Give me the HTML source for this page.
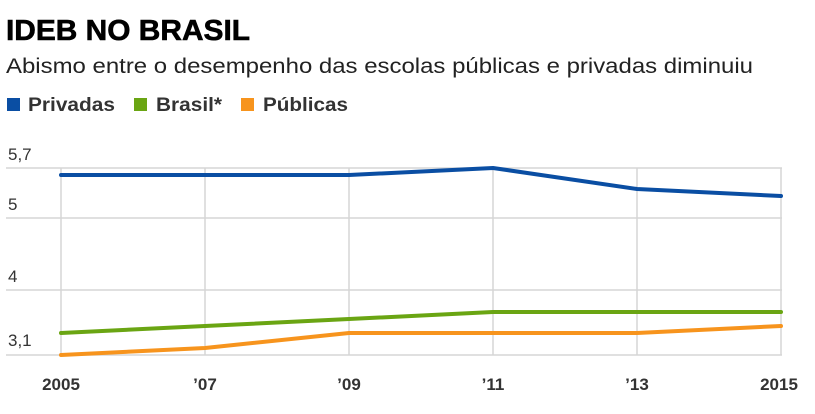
<!DOCTYPE html>
<html><head><meta charset="utf-8"><style>
html,body{margin:0;padding:0;background:#fff;}
svg{display:block;font-family:"Liberation Sans",Arial,sans-serif;}
</style></head><body>
<svg width="815" height="414" viewBox="0 0 815 414" xmlns="http://www.w3.org/2000/svg">
<text x="6" y="40" font-size="29" font-weight="bold" fill="#000" stroke="#000" stroke-width="0.6" textLength="244" lengthAdjust="spacingAndGlyphs">IDEB NO BRASIL</text>
<text x="6" y="73" font-size="21" fill="#222" textLength="747" lengthAdjust="spacingAndGlyphs">Abismo entre o desempenho das escolas públicas e privadas diminuiu</text>
<rect x="7" y="98" width="13" height="13" fill="#0a4ea3"/>
<text x="28" y="111" font-size="19" font-weight="bold" fill="#333" textLength="87" lengthAdjust="spacingAndGlyphs">Privadas</text>
<rect x="134" y="98" width="13" height="13" fill="#6aa513"/>
<text x="156" y="111" font-size="19" font-weight="bold" fill="#333" textLength="66" lengthAdjust="spacingAndGlyphs">Brasil*</text>
<rect x="241" y="98" width="13" height="13" fill="#f7941d"/>
<text x="263" y="111" font-size="19" font-weight="bold" fill="#333" textLength="85" lengthAdjust="spacingAndGlyphs">Públicas</text>
<g stroke="#d6d6d6" stroke-width="1.5" fill="none">
<line x1="6" y1="168" x2="782" y2="168"/>
<line x1="6" y1="218" x2="782" y2="218"/>
<line x1="6" y1="290" x2="782" y2="290"/>
<line x1="6" y1="355" x2="782" y2="355"/>
<line x1="61" y1="168" x2="61" y2="355"/>
<line x1="205" y1="168" x2="205" y2="355"/>
<line x1="349" y1="168" x2="349" y2="355"/>
<line x1="493" y1="168" x2="493" y2="355"/>
<line x1="637" y1="168" x2="637" y2="355"/>
<line x1="781" y1="168" x2="781" y2="355"/>
</g>
<g font-size="17" fill="#333">
<text x="8" y="160">5,7</text>
<text x="8" y="210">5</text>
<text x="8" y="282">4</text>
<text x="8" y="346">3,1</text>
</g>
<g font-size="17" font-weight="bold" fill="#333" text-anchor="middle">
<text x="61" y="390">2005</text>
<text x="205" y="390">’07</text>
<text x="349" y="390">’09</text>
<text x="493" y="390">’11</text>
<text x="637" y="390">’13</text>
<text x="779" y="390">2015</text>
</g>
<g fill="none" stroke-width="4" stroke-linejoin="round" stroke-linecap="round">
<polyline stroke="#0a4ea3" points="61,175 205,175 349,175 493,168 637,189 781,196"/>
<polyline stroke="#6aa513" points="61,333 205,326 349,319 493,312 637,312 781,312"/>
<polyline stroke="#f7941d" points="61,355 205,348 349,333 493,333 637,333 781,326"/>
</g>
</svg>
</body></html>
